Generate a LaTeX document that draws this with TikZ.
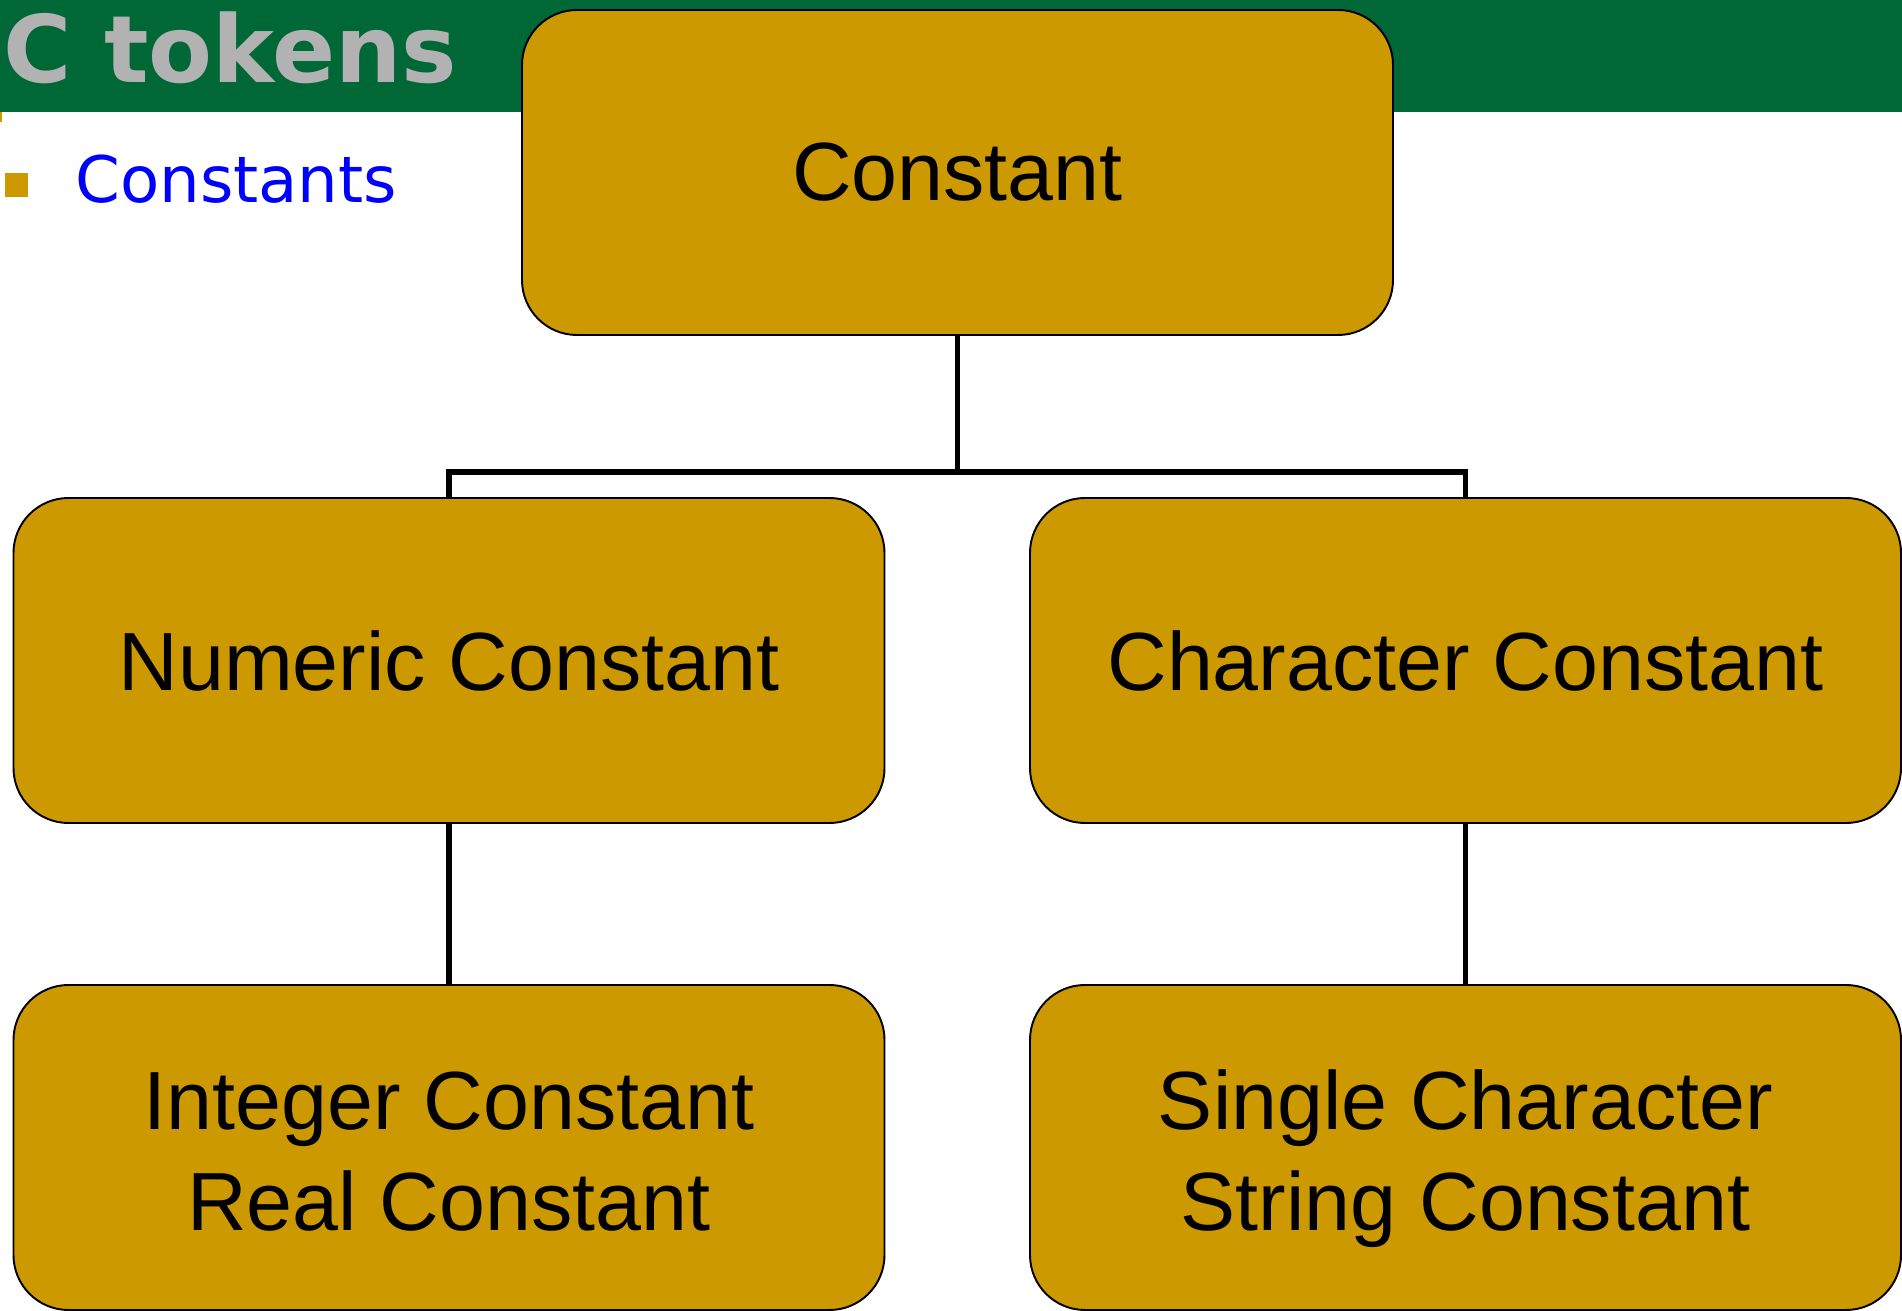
\documentclass[tikz,border=0pt]{standalone}
\usepackage{fontspec}
\setmainfont{Liberation Sans}
\newfontfamily\headfont{DejaVu Sans}
\definecolor{bandgreen}{RGB}{0,104,55}
\definecolor{boxgold}{RGB}{204,153,0}
\definecolor{titlegray}{RGB}{178,178,178}

\begin{document}
\begin{tikzpicture}[
    box/.style={draw, line width=1.1pt, fill=boxgold, rounded corners=1.1cm,
        minimum width=17.42cm, minimum height=6.5cm, align=center,
        font=\fontsize{47}{57}\selectfont},
    twoline/.style={text height=94pt, text depth=0pt},
    link/.style={line width=3pt}]
    \useasboundingbox (0, 0) rectangle (38.04, 26.2);

    % slide header
    \fill[bandgreen] (0, 23.96) rectangle (38.04, 26.2);
    \fill[boxgold] (0, 23.76) rectangle (0.04, 23.96);
    \node[anchor=base west, inner sep=0, text=titlegray, font=\headfont\bfseries\fontsize{53}{58}\selectfont]
        (title) at (0.06, 24.55) {C tokens};
    \fill[boxgold] (0.1, 22.26) rectangle (0.56, 22.74);
    \node[anchor=base west, inner sep=0, text=blue, font=\headfont\fontsize{36.5}{42}\selectfont]
        (sub) at (1.5, 22.15) {Constants};

    % the tree
    \node[box] (const) at (19.15, 22.75) {Constant};
    \node[box] (num) at (8.98, 12.99) {Numeric Constant};
    \node[box] (chr) at (29.31, 12.99) {Character Constant};
    \node[box, twoline] (intreal) at (8.98, 3.25) {Integer Constant\\Real Constant};
    \node[box, twoline] (singstr) at (29.31, 3.25) {Single Character\\String Constant};

    \coordinate (split) at (19.15, 16.76);
    \draw[link] (const.south) -- (split);
    \draw[link] (num.north) |- (split) -| (chr.north);
    \draw[link] (num.south) -- (intreal.north);
    \draw[link] (chr.south) -- (singstr.north);
\end{tikzpicture}
\end{document}
